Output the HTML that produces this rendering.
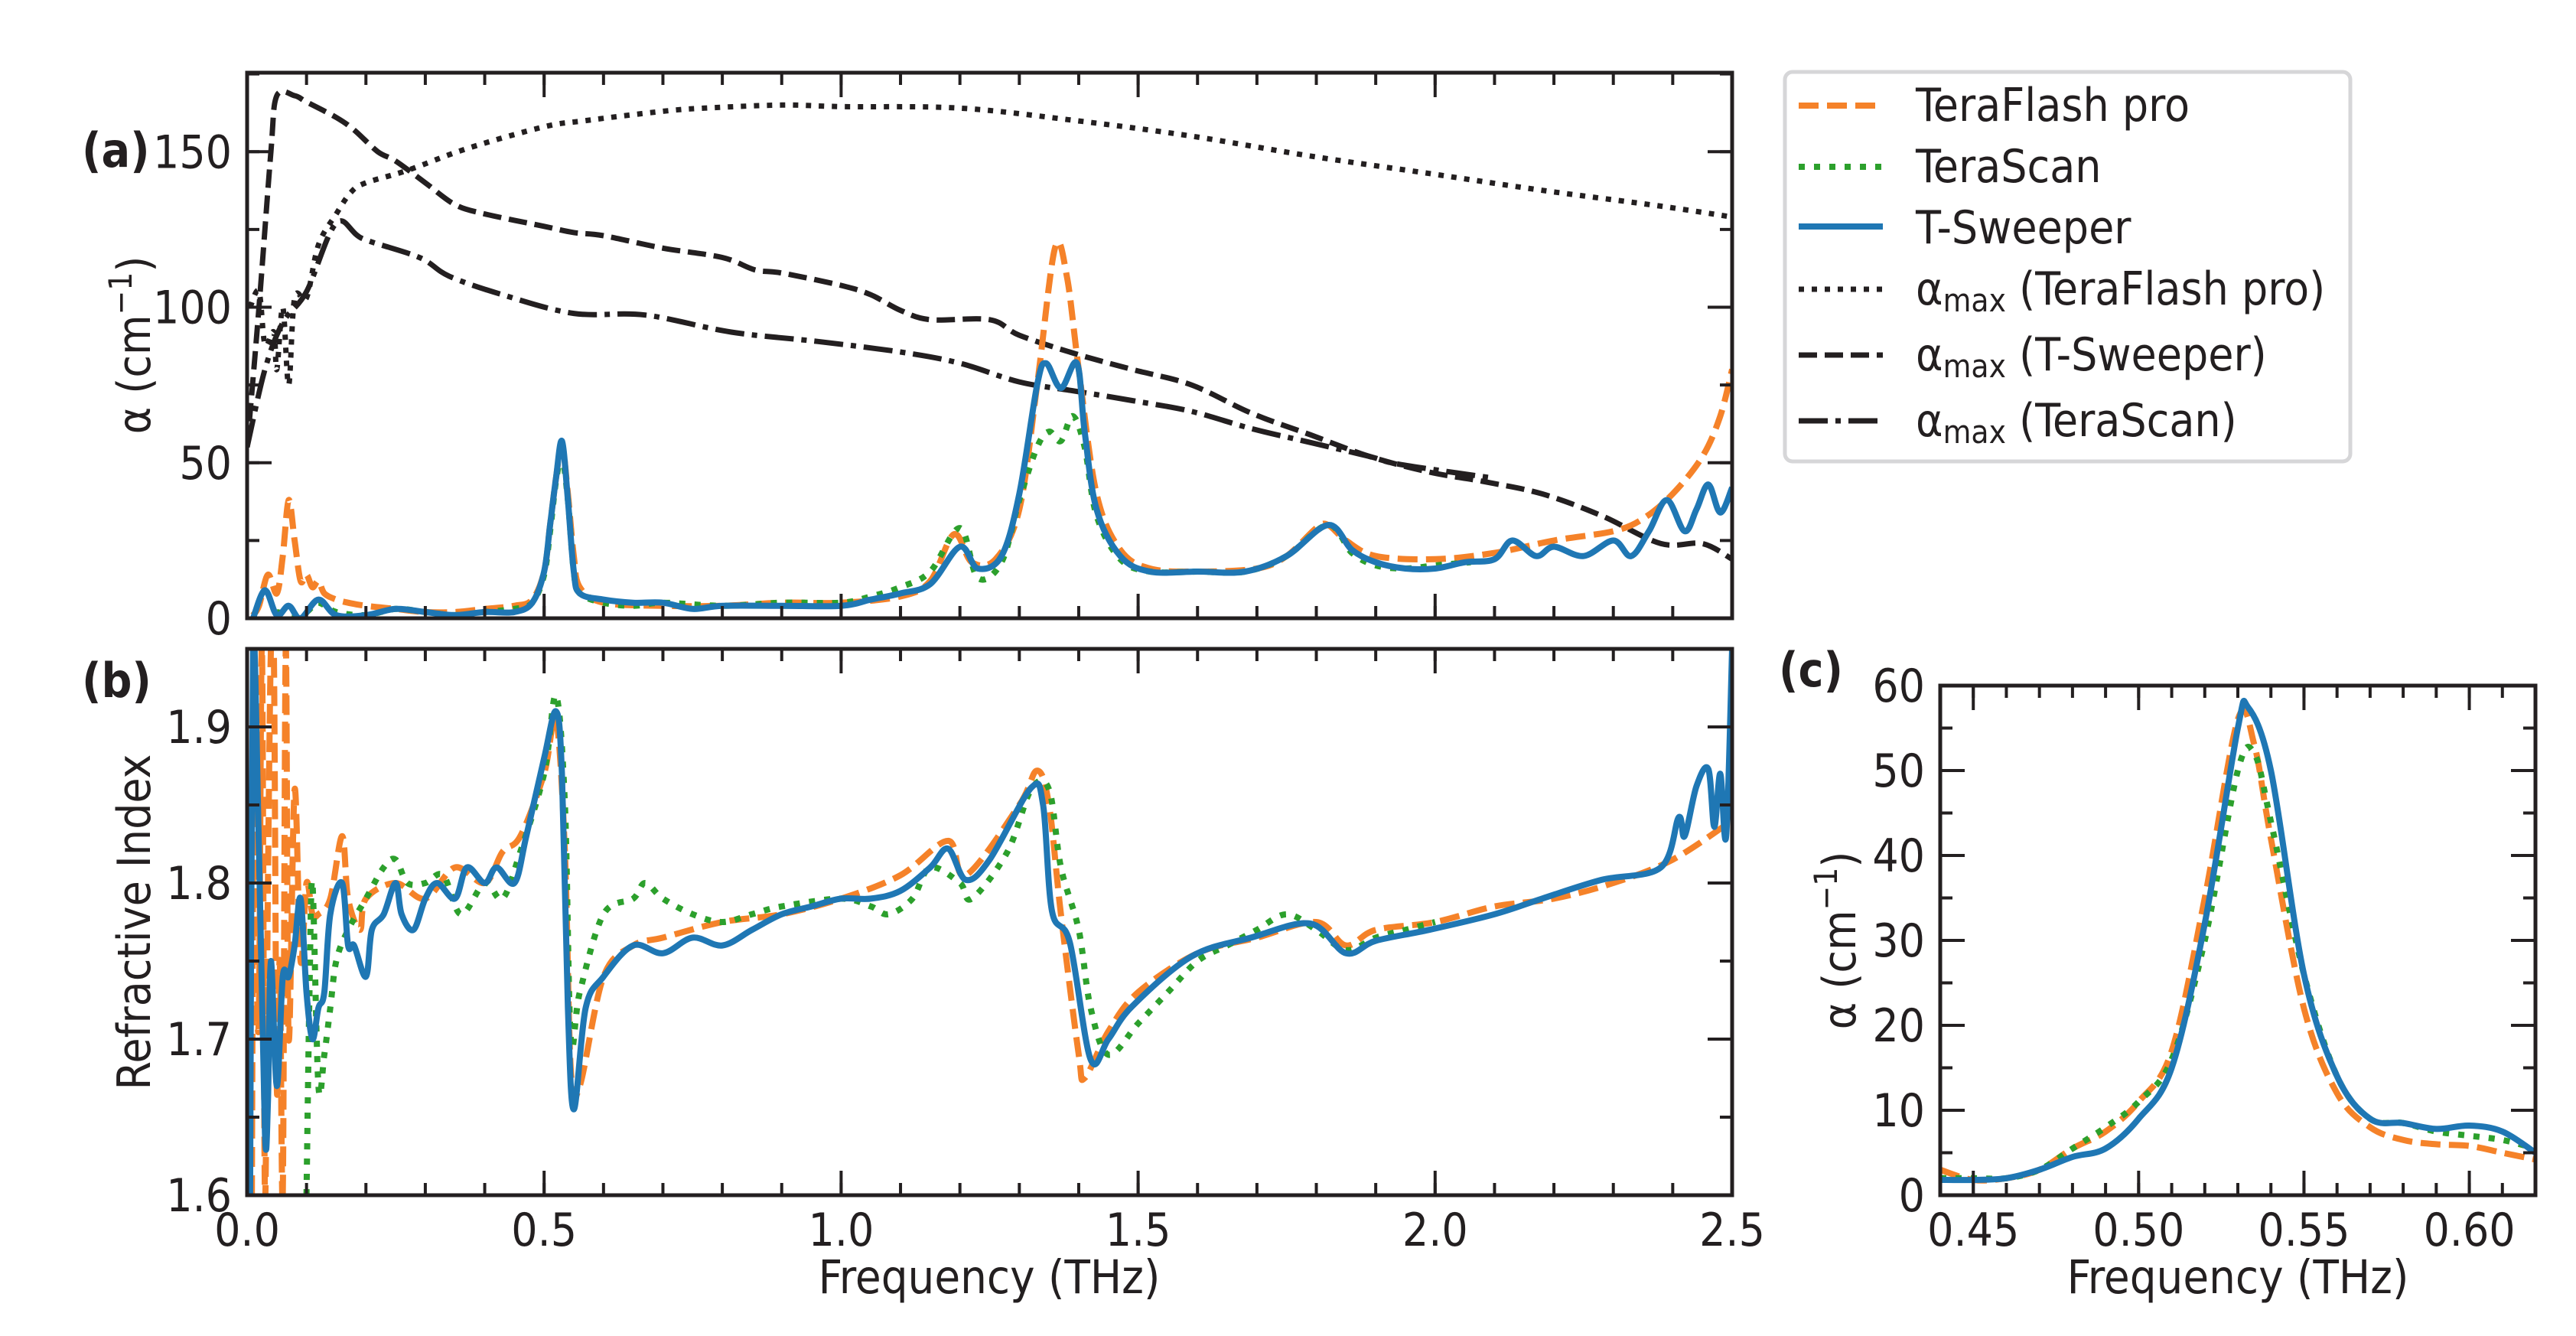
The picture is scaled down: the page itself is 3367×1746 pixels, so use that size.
<!DOCTYPE html>
<html><head><meta charset="utf-8"><style>
html,body{margin:0;padding:0;background:#fff;}
svg{display:block;}
text{font-family:"DejaVu Sans Condensed","DejaVu Sans","Liberation Sans",sans-serif;font-stretch:condensed;fill:#231f20;}
</style></head><body>
<svg id="fig" width="3367" height="1746" viewBox="0 0 3367 1746" xmlns="http://www.w3.org/2000/svg">
<defs>
<clipPath id="clipA"><rect x="323" y="95" width="1941" height="713"/></clipPath>
<clipPath id="clipB"><rect x="323" y="848" width="1941" height="714"/></clipPath>
<clipPath id="clipC"><rect x="2536" y="896" width="778" height="666"/></clipPath>
</defs>
<g id="gA"></g>
<g id="gB"></g>
<g id="gC"></g>
<text x="107" y="218" font-size="62" font-weight="bold">(a)</text>
<text x="107" y="911" font-size="62" font-weight="bold">(b)</text>
<text x="2325" y="897" font-size="62" font-weight="bold">(c)</text>
<text transform="translate(196,451) rotate(-90)" text-anchor="middle" font-size="60">α (cm<tspan baseline-shift="super" font-size="42">−1</tspan>)</text>
<text transform="translate(196,1205) rotate(-90)" text-anchor="middle" font-size="60">Refractive Index</text>
<text transform="translate(2425,1229) rotate(-90)" text-anchor="middle" font-size="60">α (cm<tspan baseline-shift="super" font-size="42">−1</tspan>)</text>
<text x="1293" y="1690" text-anchor="middle" font-size="61">Frequency (THz)</text>
<text x="2925" y="1690" text-anchor="middle" font-size="61">Frequency (THz)</text>
<g>
<rect x="2333" y="94" width="739" height="509" rx="10" fill="#fff" stroke="#d6d6d8" stroke-width="5"/>
<g><line x1="2351" y1="138" x2="2461" y2="138" stroke="#f58229" stroke-width="8" stroke-dasharray="26,11"/><text x="2504" y="158" font-size="60">TeraFlash pro</text></g>
<g><line x1="2351" y1="218" x2="2461" y2="218" stroke="#2ca02c" stroke-width="8" stroke-dasharray="8,12"/><text x="2504" y="238" font-size="60">TeraScan</text></g>
<g><line x1="2351" y1="296" x2="2461" y2="296" stroke="#1f77b4" stroke-width="8"/><text x="2504" y="318" font-size="60">T-Sweeper</text></g>
<g><line x1="2351" y1="378" x2="2461" y2="378" stroke="#231f20" stroke-width="7" stroke-dasharray="7,10"/><text x="2504" y="398" font-size="60">α<tspan baseline-shift="-22%" font-size="42">max</tspan> (TeraFlash pro)</text></g>
<g><line x1="2351" y1="464" x2="2461" y2="464" stroke="#231f20" stroke-width="7" stroke-dasharray="24,10"/><text x="2504" y="484" font-size="60">α<tspan baseline-shift="-22%" font-size="42">max</tspan> (T-Sweeper)</text></g>
<g><line x1="2351" y1="550" x2="2461" y2="550" stroke="#231f20" stroke-width="7" stroke-dasharray="38,10,7,10"/><text x="2504" y="570" font-size="60">α<tspan baseline-shift="-22%" font-size="42">max</tspan> (TeraScan)</text></g>
</g>
</svg>
<script>
// ---- Panel (a) data: absorption alpha (cm^-1) vs frequency (THz)
const aTFx = [0.01,0.02,0.035,0.05,0.06,0.07,0.08,0.09,0.1,0.11,0.12,0.13,0.15,0.17,0.2,0.25,0.3,0.35,0.4,0.45,0.48,0.5,0.51,0.52,0.53,0.54,0.55,0.56,0.6,0.7,0.8,0.9,1.0,1.1,1.15,1.19,1.22,1.26,1.3,1.33,1.36,1.38,1.4,1.43,1.47,1.52,1.6,1.7,1.75,1.8,1.82,1.85,1.9,2.0,2.1,2.2,2.3,2.35,2.4,2.45,2.48,2.5];
const aTFy = [1,4,14,8,20,38,25,12,14,10,12,8,6,5,4,3,2,2,3,4,6,15,30,45,56,40,20,10,5,4,4,5,5,7,12,27,18,19,35,75,119,110,80,40,22,16,15,16,20,29,30,25,20,19,21,25,28,32,40,52,65,80];
const aTSWx = [0.01,0.03,0.05,0.07,0.09,0.12,0.15,0.2,0.25,0.3,0.35,0.4,0.45,0.48,0.5,0.51,0.52,0.53,0.54,0.55,0.56,0.6,0.65,0.7,0.75,0.8,0.9,1.0,1.05,1.1,1.15,1.2,1.23,1.27,1.3,1.33,1.345,1.37,1.397,1.41,1.43,1.47,1.52,1.6,1.68,1.75,1.82,1.86,1.9,1.95,2.0,2.05,2.1,2.13,2.17,2.2,2.25,2.3,2.33,2.36,2.39,2.42,2.44,2.46,2.48,2.5];
const aTSWy = [0,9,1,4,0,6,1,1,3,2,1,2,2,5,15,30,45,57,38,15,8,6,5,5,3,4,4,4,6,8,11,23,16,20,40,75,82,74,82,60,35,20,15,15,15,20,30,22,18,16,16,18,19,25,20,23,20,25,20,28,38,28,35,43,34,42];
const aTSx = [0.05,0.08,0.1,0.12,0.15,0.2,0.25,0.3,0.35,0.4,0.45,0.48,0.5,0.51,0.52,0.53,0.54,0.55,0.56,0.6,0.65,0.7,0.8,0.9,1.0,1.05,1.1,1.15,1.2,1.23,1.27,1.3,1.33,1.35,1.37,1.39,1.41,1.43,1.47,1.52,1.6,1.68,1.75,1.82,1.86,1.9,1.95,2.0,2.06];
const aTSy = [2,1,2,5,2,1,3,2,1,2,3,5,14,28,44,52,38,15,8,5,4,5,4,5,5,7,10,15,29,13,18,38,55,60,57,65,55,33,19,15,15,15,20,30,21,17,16,17,18];
const amTFx = [0.005,0.02,0.03,0.045,0.05,0.06,0.07,0.08,0.1,0.12,0.15,0.175,0.2,0.27,0.37,0.5,0.57,0.7,0.77,0.9,1.0,1.2,1.395,1.59,1.79,1.99,2.18,2.38,2.5];
const amTFy = [100,105,88,92,80,100,75,103,103,120,130,137,140,144,151,158,160,163,164,165,164.5,164,160,155,148.6,143,137.6,132.5,129];
const amTSWx = [0.0,0.02,0.04,0.05,0.08,0.1,0.15,0.18,0.22,0.25,0.3,0.35,0.4,0.5,0.55,0.6,0.7,0.8,0.855,0.9,1.0,1.05,1.1,1.15,1.25,1.3,1.395,1.49,1.59,1.69,1.79,1.89,1.99,2.08,2.18,2.28,2.38,2.45,2.5];
const amTSWy = [55,100,150,168,168,166,161,157,150,147,140,133,130,126,124,123,119,116,112,111,107,104,99,96,96,91,85,80,75,66,59,52,47,44,40,33,24,24,19];
const amTSx = [0.0,0.03,0.06,0.1,0.15,0.195,0.29,0.34,0.43,0.55,0.67,0.815,0.96,1.1,1.2,1.3,1.395,1.49,1.59,1.69,1.79,1.89,1.94,2.1];
const amTSy = [55,80,95,105,127,122,116,110,104,98,97.5,92,89,85.6,82,76,73,70,66.5,61,56.5,52,49.5,45];
// ---- Panel (b) data: refractive index
const nTFx = [0.008,0.012,0.016,0.02,0.025,0.03,0.035,0.04,0.045,0.05,0.055,0.06,0.065,0.07,0.08,0.09,0.1,0.11,0.12,0.14,0.16,0.17,0.19,0.2,0.25,0.3,0.35,0.4,0.43,0.46,0.5,0.52,0.535,0.545,0.56,0.6,0.65,0.7,0.8,0.9,1.0,1.1,1.18,1.21,1.3,1.33,1.35,1.37,1.4,1.41,1.45,1.5,1.6,1.7,1.8,1.85,1.9,2.0,2.1,2.2,2.3,2.4,2.5];
const nTFy = [1.6,1.95,1.75,1.72,1.95,1.6,1.8,1.95,1.95,1.67,1.75,1.6,1.95,1.7,1.86,1.75,1.80,1.78,1.78,1.79,1.83,1.79,1.77,1.79,1.80,1.79,1.81,1.80,1.82,1.83,1.87,1.905,1.82,1.68,1.67,1.74,1.76,1.765,1.775,1.78,1.79,1.805,1.827,1.805,1.85,1.872,1.85,1.78,1.69,1.675,1.705,1.73,1.755,1.765,1.775,1.76,1.77,1.775,1.785,1.79,1.80,1.815,1.84];
const nTSWx = [0.005,0.01,0.02,0.03,0.035,0.04,0.05,0.06,0.07,0.08,0.09,0.1,0.11,0.12,0.13,0.14,0.16,0.17,0.18,0.2,0.21,0.23,0.25,0.26,0.28,0.3,0.32,0.35,0.37,0.4,0.42,0.45,0.47,0.5,0.52,0.53,0.54,0.55,0.57,0.6,0.65,0.7,0.75,0.8,0.85,0.9,0.95,1.0,1.05,1.1,1.15,1.18,1.21,1.25,1.32,1.34,1.355,1.385,1.42,1.45,1.49,1.59,1.69,1.79,1.85,1.9,1.99,2.1,2.18,2.28,2.38,2.41,2.42,2.44,2.46,2.47,2.48,2.49,2.5];
const nTSWy = [1.6,1.95,1.82,1.64,1.66,1.75,1.67,1.74,1.74,1.76,1.79,1.73,1.70,1.72,1.73,1.78,1.80,1.76,1.76,1.74,1.77,1.78,1.80,1.78,1.77,1.79,1.80,1.79,1.81,1.80,1.81,1.80,1.83,1.88,1.91,1.87,1.72,1.655,1.72,1.74,1.76,1.755,1.765,1.76,1.77,1.78,1.785,1.79,1.79,1.795,1.81,1.822,1.802,1.815,1.861,1.85,1.782,1.762,1.687,1.70,1.721,1.753,1.765,1.774,1.755,1.763,1.77,1.78,1.79,1.802,1.81,1.842,1.83,1.862,1.873,1.836,1.87,1.83,1.95];
const nTSx = [0.1,0.105,0.11,0.12,0.13,0.14,0.15,0.17,0.2,0.23,0.25,0.27,0.3,0.33,0.36,0.4,0.43,0.46,0.5,0.52,0.535,0.545,0.56,0.6,0.65,0.67,0.7,0.75,0.8,0.85,0.9,1.0,1.05,1.08,1.12,1.15,1.2,1.22,1.28,1.32,1.35,1.37,1.4,1.42,1.45,1.5,1.55,1.6,1.65,1.7,1.75,1.8,1.85,1.9,1.95,2.0];
const nTSy = [1.6,1.73,1.80,1.67,1.69,1.72,1.75,1.77,1.79,1.81,1.815,1.80,1.80,1.805,1.78,1.80,1.79,1.82,1.87,1.92,1.85,1.70,1.73,1.78,1.79,1.80,1.79,1.78,1.775,1.78,1.785,1.79,1.785,1.78,1.79,1.81,1.80,1.79,1.82,1.86,1.86,1.81,1.77,1.72,1.69,1.71,1.73,1.75,1.76,1.77,1.78,1.77,1.757,1.765,1.77,1.775];
// ---- Panel (c) data: zoom of 0.53 THz peak
const cFx = [0.44,0.45,0.46,0.47,0.48,0.49,0.5,0.51,0.52,0.53,0.535,0.54,0.55,0.56,0.57,0.58,0.59,0.6,0.61,0.62];
const cTFy = [3,1.8,2,3,5.5,7.5,11,17,35,56,53,42,22,12,8,6.5,6,5.8,5,4.2];
const cTSy = [2,2,2,3,5.5,8,11,16,30,50,52,44,26,14,9,8.5,7.5,7,6.5,5.5];
const cTSWx = [0.44,0.45,0.46,0.47,0.48,0.49,0.5,0.51,0.52,0.53,0.533,0.54,0.55,0.56,0.57,0.58,0.59,0.6,0.61,0.62];
const cTSWy = [1.8,1.8,2,3,4.5,5.5,9,15,32,55,57.5,50,26,14,9,8.5,7.8,8.2,7.5,5];
const tickA_y = ["0","50","100","150"];
const tickB_y = ["1.6","1.7","1.8","1.9"];
const tickB_x = ["0.0","0.5","1.0","1.5","2.0","2.5"];
const tickC_x = ["0.45","0.50","0.55","0.60"];
const tickC_y = ["0","10","20","30","40","50","60"];

const NS="http://www.w3.org/2000/svg";
const INK="#231f20", OR="#f58229", GR="#2ca02c", BL="#1f77b4";
function mk(tag,parent){const e=document.createElementNS(NS,tag);parent.appendChild(e);return e;}
function lin(d0,d1,r0,r1){return v=>r0+(v-d0)/(d1-d0)*(r1-r0);}
const A={x:lin(0,2.5,323,2264),y:lin(0,175.4,808,95),L:323,R:2264,T:95,B:808};
const B={x:lin(0,2.5,323,2264),y:lin(1.6,1.95,1562,848),L:323,R:2264,T:848,B:1562};
const C={x:lin(0.44,0.62,2536,3314),y:lin(0,60,1562,896),L:2536,R:3314,T:896,B:1562};

function pathD(ax,xs,ys,smooth){
  const p=xs.map((x,i)=>[ax.x(x),ax.y(ys[i])]);
  if(!smooth) return "M"+p.map(q=>q[0].toFixed(1)+","+q[1].toFixed(1)).join("L");
  let d="M"+p[0][0].toFixed(1)+","+p[0][1].toFixed(1);
  for(let i=0;i<p.length-1;i++){
    const p0=p[Math.max(i-1,0)],p1=p[i],p2=p[i+1],p3=p[Math.min(i+2,p.length-1)];
    const c1=[p1[0]+(p2[0]-p0[0])/6,p1[1]+(p2[1]-p0[1])/6];
    const c2=[p2[0]-(p3[0]-p1[0])/6,p2[1]-(p3[1]-p1[1])/6];
    d+="C"+c1[0].toFixed(1)+","+c1[1].toFixed(1)+" "+c2[0].toFixed(1)+","+c2[1].toFixed(1)+" "+p2[0].toFixed(1)+","+p2[1].toFixed(1);
  }
  return d;
}
function series(g,ax,xs,ys,color,w,dash,clip,name,smooth){
  const p=mk("path",g);
  p.setAttribute("d",pathD(ax,xs,ys,smooth));
  p.setAttribute("fill","none");p.setAttribute("stroke",color);p.setAttribute("stroke-width",w);
  p.setAttribute("stroke-linejoin","round");
  if(dash)p.setAttribute("stroke-dasharray",dash);
  p.setAttribute("clip-path","url(#"+clip+")");
  
  
}
function frame(g,ax,xMaj,xMin,yMaj,yMin,xLabels,yLabels,prefix){
  const tk=mk("g",g);
  
  
  function t(x1,y1,x2,y2){const l=mk("line",tk);l.setAttribute("x1",x1);l.setAttribute("y1",y1);l.setAttribute("x2",x2);l.setAttribute("y2",y2);l.setAttribute("stroke",INK);l.setAttribute("stroke-width",4);}
  xMin.forEach(v=>{const X=ax.x(v);t(X,ax.B,X,ax.B-16);t(X,ax.T,X,ax.T+16);});
  xMaj.forEach(v=>{const X=ax.x(v);t(X,ax.B,X,ax.B-32);t(X,ax.T,X,ax.T+32);});
  yMin.forEach(v=>{const Y=ax.y(v);t(ax.L,Y,ax.L+16,Y);t(ax.R,Y,ax.R-16,Y);});
  yMaj.forEach(v=>{const Y=ax.y(v);t(ax.L,Y,ax.L+32,Y);t(ax.R,Y,ax.R-32,Y);});
  const r=mk("rect",g);
  r.setAttribute("x",ax.L);r.setAttribute("y",ax.T);r.setAttribute("width",ax.R-ax.L);r.setAttribute("height",ax.B-ax.T);
  r.setAttribute("fill","none");r.setAttribute("stroke",INK);r.setAttribute("stroke-width",5);
  
  
  if(xLabels) xMaj.forEach((v,i)=>{const s=mk("text",g);s.setAttribute("x",ax.x(v));s.setAttribute("y",ax.B+66);s.setAttribute("text-anchor","middle");s.setAttribute("font-size","60");s.textContent=xLabels[i];
    
    });
  if(yLabels) yMaj.forEach((v,i)=>{const s=mk("text",g);s.setAttribute("x",ax.L-20);s.setAttribute("y",ax.y(v)+21);s.setAttribute("text-anchor","end");s.setAttribute("font-size","60");s.textContent=yLabels[i];
    
    });
}
function range(a,b,s){const r=[];for(let v=a;v<=b+1e-9;v+=s)r.push(+v.toFixed(4));return r;}

const gA=document.getElementById("gA"),gB=document.getElementById("gB"),gC=document.getElementById("gC");
// Panel a
series(gA,A,amTFx,amTFy,INK,7,"7,10","clipA","amax-teraflash-line",true);
series(gA,A,amTSWx,amTSWy,INK,7,"24,10","clipA","amax-tsweeper-line",true);
series(gA,A,amTSx,amTSy,INK,7,"38,10,7,10","clipA","amax-terascan-line",true);
series(gA,A,aTFx,aTFy,OR,8,"26,11","clipA","alpha-teraflash-line",true);
series(gA,A,aTSx,aTSy,GR,8,"8,12","clipA","alpha-terascan-line",true);
series(gA,A,aTSWx,aTSWy,BL,8,null,"clipA","alpha-tsweeper-line",true);
frame(gA,A,range(0,2.5,0.5),range(0,2.5,0.1),[0,50,100,150],range(0,175,25),null,tickA_y,"panel-a");
// Panel b
series(gB,B,nTFx,nTFy,OR,8,"26,11","clipB","n-teraflash-line",true);
series(gB,B,nTSx,nTSy,GR,8,"8,12","clipB","n-terascan-line",true);
series(gB,B,nTSWx,nTSWy,BL,8,null,"clipB","n-tsweeper-line",true);
frame(gB,B,range(0,2.5,0.5),range(0,2.5,0.1),[1.6,1.7,1.8,1.9],range(1.6,1.95,0.05),tickB_x,tickB_y,"panel-b");
// Panel c
series(gC,C,cFx,cTFy,OR,8,"26,11","clipC","c-teraflash-line",true);
series(gC,C,cFx,cTSy,GR,8,"8,12","clipC","c-terascan-line",true);
series(gC,C,cTSWx,cTSWy,BL,8,null,"clipC","c-tsweeper-line",true);
frame(gC,C,[0.45,0.5,0.55,0.6],range(0.44,0.62,0.01),[0,10,20,30,40,50,60],range(0,60,5),tickC_x,tickC_y,"panel-c");
</script>
</body></html>
